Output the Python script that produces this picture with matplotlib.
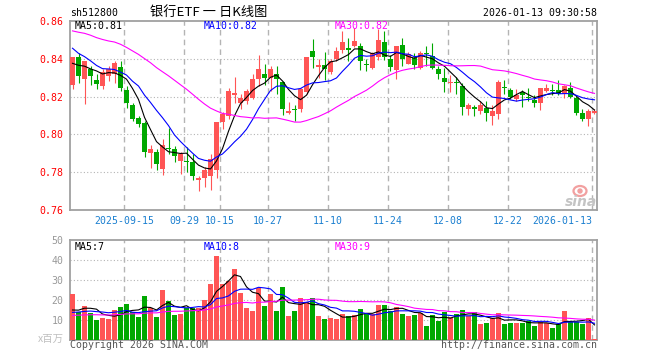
import numpy as np
import pandas as pd
import matplotlib
matplotlib.use('Agg')
import matplotlib.pyplot as plt
from matplotlib.patches import Ellipse

# daily bars of sh512800, 2025-09-02 .. 2026-01-13 (88 sessions)
open_ = [0.826, 0.8407, 0.8295, 0.8347, 0.8286, 0.8256, 0.8309, 0.8318, 0.8356, 0.8235,
         0.8154, 0.8088, 0.8058, 0.7904, 0.7909, 0.7818, 0.793, 0.7923, 0.7861, 0.786,
         0.7853, 0.7761, 0.7768, 0.778, 0.7809, 0.8063, 0.8098, 0.8209, 0.8165, 0.8177,
         0.8195, 0.8295, 0.8318, 0.83, 0.8318, 0.8277, 0.8112, 0.8135, 0.8133, 0.8225,
         0.844, 0.8359, 0.8367, 0.833, 0.840, 0.8444, 0.8456, 0.847, 0.847, 0.8372,
         0.8349, 0.841, 0.8488, 0.840, 0.834, 0.8474, 0.8375, 0.8405, 0.8353, 0.843,
         0.8414, 0.8347, 0.8296, 0.8272, 0.8277, 0.8256, 0.8133, 0.8144, 0.8125, 0.8142,
         0.8098, 0.8107, 0.8253, 0.8233, 0.8186, 0.8225, 0.8196, 0.8182, 0.8168, 0.823,
         0.8237, 0.8233, 0.8212, 0.8247, 0.8195, 0.8112, 0.8081, 0.8112]
high = [0.841, 0.8432, 0.8386, 0.8361, 0.832, 0.8344, 0.8361, 0.8388, 0.8388, 0.8256,
        0.8168, 0.8098, 0.8072, 0.7944, 0.7923, 0.7975, 0.8035, 0.7937, 0.7909, 0.7935,
        0.7896, 0.7779, 0.7826, 0.7896, 0.8067, 0.8116, 0.8247, 0.8305, 0.8216, 0.8242,
        0.8318, 0.8418, 0.8375, 0.8361, 0.8361, 0.8282, 0.8172, 0.8154, 0.8247, 0.8409,
        0.8507, 0.840, 0.8437, 0.840, 0.8463, 0.8549, 0.8511, 0.8563, 0.8484, 0.840,
        0.8435, 0.8558, 0.8546, 0.8418, 0.847, 0.8509, 0.8435, 0.8432, 0.844, 0.847,
        0.8481, 0.8361, 0.8353, 0.8312, 0.8305, 0.8274, 0.8165, 0.8154, 0.8177, 0.8177,
        0.8154, 0.8286, 0.8286, 0.8244, 0.8242, 0.8235, 0.8244, 0.8207, 0.8247, 0.8265,
        0.8265, 0.8286, 0.826, 0.8277, 0.8204, 0.8133, 0.8133, 0.8133]
low = [0.824, 0.8274, 0.816, 0.826, 0.8239, 0.8239, 0.8282, 0.8274, 0.823, 0.8139,
       0.8072, 0.804, 0.7879, 0.7821, 0.7809, 0.7786, 0.7895, 0.7853, 0.7788, 0.7802,
       0.7761, 0.7698, 0.772, 0.7705, 0.7768, 0.8028, 0.8081, 0.8168, 0.8133, 0.816,
       0.8186, 0.8256, 0.8261, 0.823, 0.8212, 0.8102, 0.8107, 0.8072, 0.8116, 0.8212,
       0.8353, 0.830, 0.829, 0.8318, 0.8388, 0.8432, 0.8388, 0.8463, 0.834, 0.8335,
       0.8344, 0.8396, 0.8393, 0.8335, 0.8291, 0.8361, 0.837, 0.8344, 0.8348, 0.8361,
       0.8344, 0.8291, 0.8225, 0.8225, 0.8212, 0.8102, 0.8102, 0.8095, 0.8107, 0.8072,
       0.8049, 0.8084, 0.8212, 0.8189, 0.8177, 0.8147, 0.8177, 0.8147, 0.813, 0.8225,
       0.8207, 0.8207, 0.8195, 0.8195, 0.8102, 0.8072, 0.8042, 0.8107]
close = [0.841, 0.8309, 0.8386, 0.8309, 0.8265, 0.833, 0.8344, 0.8379, 0.8244, 0.8165,
         0.8084, 0.8053, 0.7905, 0.7921, 0.7846, 0.7944, 0.7925, 0.7884, 0.7896, 0.7855,
         0.7782, 0.777, 0.7809, 0.787, 0.8067, 0.8107, 0.823, 0.8218, 0.8191, 0.823,
         0.8291, 0.8347, 0.8298, 0.8344, 0.8291, 0.8133, 0.8125, 0.813, 0.824, 0.8409,
         0.8409, 0.8365, 0.8347, 0.8388, 0.844, 0.8488, 0.8449, 0.8496, 0.8388, 0.8368,
         0.8432, 0.8498, 0.841, 0.8356, 0.847, 0.8398, 0.8426, 0.8365, 0.8432, 0.8423,
         0.8353, 0.8318, 0.8277, 0.8277, 0.827, 0.8147, 0.8156, 0.8137, 0.8154, 0.8111,
         0.8125, 0.8277, 0.8246, 0.820, 0.8207, 0.8207, 0.8191, 0.8168, 0.8244, 0.8244,
         0.823, 0.8212, 0.8256, 0.820, 0.8112, 0.8084, 0.8123, 0.8126]
# volume, millions of shares
volume = [23, 13.8, 17, 13.3, 10, 10.8, 10.5, 15, 16.7, 18,
          13.8, 11.7, 22, 15.8, 11.7, 25, 19.5, 12.5, 13, 15.8,
          15.8, 15.8, 20, 28, 42, 28, 29.5, 35.5, 23.7, 16.2,
          14.5, 26, 17, 23, 14.5, 26.7, 12.2, 14.5, 21.2, 19.2,
          21.2, 12.2, 10.5, 11.2, 10.5, 12.8, 12.2, 12.5, 15.5, 13.7,
          12.8, 17.5, 17.5, 14.5, 16.7, 13, 12.2, 12.5, 13.7, 7.2,
          12.5, 9.7, 13.8, 11.3, 13, 15, 12.2, 13.8, 8, 8.7,
          11.2, 13.7, 8, 8.7, 8.7, 8.7, 9.5, 7.2, 8.8, 8.7,
          6.2, 7.8, 14.5, 9.2, 9.2, 8, 10.8, 0.5]

# sessions before the window (not drawn), backed out from where the MA lines start
hist_close = [0.852, 0.856, 0.861, 0.865, 0.862, 0.858, 0.855, 0.860, 0.866, 0.864,
              0.861, 0.857, 0.858, 0.862, 0.860, 0.857, 0.859, 0.861, 0.856, 0.857,
              0.858, 0.856, 0.853, 0.851, 0.850, 0.836, 0.841, 0.838, 0.832]
hist_volume = [10.5, 12.8, 11.2, 9.6, 13.4, 12.1, 10.8, 11.9, 10.2, 12.6,
               11.4, 13.1, 10.7, 11.8, 12.3, 9.9, 11.0, 12.4, 11.6, 11.7,
               12.0, 13.9, 11.5, 12.8, 12.8, 14.2, 12.1, 13.5, 12.2]

tick_idx = [9, 19, 25, 33, 43, 53, 63, 73, 87]
tick_lbl = ['2025-09-15', '09-29', '10-15', '10-27', '11-10', '11-24',
            '12-08', '12-22', '2026-01-13']

RED = '#ff5555'
GREEN = '#00a800'
GRID = '#b4b4b4'
FRAME = '#a0a0a0'
MONO = 'DejaVu Sans Mono'
FS = 7.1

plt.rcParams['font.family'] = [MONO, 'Noto Sans CJK SC']


def moving_avg(hist, values, n):
    s = pd.Series(list(hist) + list(values))
    return s.rolling(n).mean().to_numpy()[len(hist):]


W, H = 660, 360


def px_rect(x0, y0, x1, y1):
    return [x0 / W, 1 - y1 / H, (x1 - x0) / W, (y1 - y0) / H]


fig = plt.figure(figsize=(6.6, 3.6), dpi=100)
ax = fig.add_axes(px_rect(70, 21, 597, 210))
axv = fig.add_axes(px_rect(70, 240, 597, 340))

o = np.array(open_)
h = np.array(high)
l = np.array(low)
c = np.array(close)
v = np.array(volume)
x = np.arange(len(c))
up = c >= o
cols = np.where(up, RED, GREEN)

# ---- price panel ----
ax.vlines(x, l, h, colors=cols, lw=0.8, zorder=3)
ax.bar(x, np.maximum(np.abs(c - o), 0.0005), bottom=np.minimum(o, c),
       width=0.83, color=cols, lw=0, zorder=4)

for n, col in [(5, 'black'), (10, '#0000ff'), (30, '#ff00ff')]:
    ax.plot(x, moving_avg(hist_close, c, n), color=col, lw=0.8, zorder=5)

for y in [0.78, 0.80, 0.82, 0.84]:
    ax.axhline(y, color=GRID, lw=0.8, ls=(0, (1, 2)), zorder=1)

# ---- volume panel ----
axv.bar(x, v, width=0.83, color=cols, lw=0, zorder=3)
for n, col in [(5, 'black'), (10, '#0000ff'), (30, '#ff00ff')]:
    axv.plot(x, moving_avg(hist_volume, v, n), color=col, lw=0.8, zorder=5)
for y in [10, 20, 30, 40]:
    axv.axhline(y, color=GRID, lw=0.8, ls=(0, (1, 2)), zorder=1)

for a in (ax, axv):
    a.set_xlim(-0.4167, len(c) - 0.5833)
    for t in tick_idx:
        a.axvline(t - 0.4, color=GRID, lw=1, ls=(0, (4, 3)), zorder=1)
    for sp in a.spines.values():
        sp.set_color(FRAME)
        sp.set_linewidth(1.3)
    a.set_xticks([])
    a.tick_params(axis='y', length=0, pad=4.5, labelsize=FS)

ax.set_ylim(0.76, 0.86)
ax.set_yticks([0.76, 0.78, 0.80, 0.82, 0.84, 0.86])
ax.set_yticklabels([f'{t:.2f}' for t in ax.get_yticks()], color='red')

axv.set_ylim(0, 50)
axv.set_yticks([10, 20, 30, 40, 50])
axv.set_yticklabels([str(t) for t in [10, 20, 30, 40, 50]], color='#999999')

# date labels under the price panel
for t, lb in zip(tick_idx, tick_lbl):
    ha = 'right' if t == tick_idx[-1] else 'center'
    ax.text(t - 0.4, -0.056, lb, transform=ax.get_xaxis_transform(),
            ha=ha, va='center', color='#1a7fd0', fontsize=FS)

# legends inside panels
ax.text(75 / W, 1 - 26 / H, 'MA5:0.81', transform=fig.transFigure, fontsize=FS, va='center')
ax.text(204 / W, 1 - 26 / H, 'MA10:0.82', transform=fig.transFigure, fontsize=FS, va='center', color='#0000ff')
ax.text(335 / W, 1 - 26 / H, 'MA30:0.82', transform=fig.transFigure, fontsize=FS, va='center', color='#ff00ff')
axv.text(75 / W, 1 - 246.5 / H, 'MA5:7', transform=fig.transFigure, fontsize=FS, va='center')
axv.text(204 / W, 1 - 246.5 / H, 'MA10:8', transform=fig.transFigure, fontsize=FS, va='center', color='#0000ff')
axv.text(335 / W, 1 - 246.5 / H, 'MA30:9', transform=fig.transFigure, fontsize=FS, va='center', color='#ff00ff')

# header
fig.text(70 / W, 1 - 13 / H, 'sh512800', fontsize=FS, va='center')
fig.text(209 / W, 1 - 12.5 / H, '银行ETF 一 日K线图', fontsize=9.5, ha='center', va='center',
         family=['Noto Sans CJK SC', 'DejaVu Sans'])
fig.text(597 / W, 1 - 13 / H, '2026-01-13 09:30:58', fontsize=FS, ha='right', va='center')

# footer
fig.text(70 / W, 1 - 345.5 / H, 'Copyright 2026 SINA.COM', fontsize=FS, va='center', color='#555555')
fig.text(597 / W, 1 - 345.5 / H, 'http://finance.sina.com.cn', fontsize=FS, ha='right', va='center',
         color='#555555')
fig.text(64 / W, 1 - 339 / H, 'x百万', fontsize=7.5, ha='right', va='center', color='#c0c0c0',
         family=['Noto Sans CJK SC', 'DejaVu Sans'])

# sina watermark
fig.add_artist(Ellipse((580 / W, 1 - 191 / H), 13 / W, 10 / H, transform=fig.transFigure,
                       fill=False, ec='#f2a0a0', lw=1.6))
fig.add_artist(Ellipse((580 / W, 1 - 191 / H), 4 / W, 4 / H, transform=fig.transFigure,
                       color='#f2a0a0'))
fig.text(581 / W, 1 - 202 / H, 'sina', fontsize=10, ha='center', va='center', color='#c4c4c4',
         weight='bold', style='italic', family='DejaVu Sans')

fig.savefig('out.png', dpi=100)
